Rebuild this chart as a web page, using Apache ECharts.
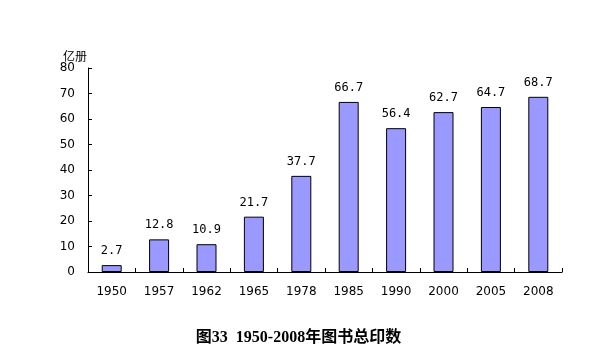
<!DOCTYPE html>
<html><head><meta charset="utf-8">
<script src="https://cdn.jsdelivr.net/npm/echarts@6/dist/echarts.min.js"></script>
<style>html,body{margin:0;padding:0;background:#fff;}#c{width:597px;height:358px;}</style>
</head><body><div id="c"></div>
<script>
const categories = ['1950','1957','1962','1965','1978','1985','1990','2000','2005','2008'];
const values = [2.7, 12.8, 10.9, 21.7, 37.7, 66.7, 56.4, 62.7, 64.7, 68.7];
const yTicks = {min: 0, max: 80, interval: 10};
const unitName = '亿册';
const titleText = '图33  1950-2008年图书总印数';

const chart = echarts.init(document.getElementById('c'), null, {renderer: 'canvas'});
chart.setOption({
  animation: false,
  backgroundColor: '#fff',
  title: {
    text: titleText, left: 'center', top: 325,
    textStyle: {fontFamily: '"Liberation Serif", "Noto Sans CJK SC", serif', fontSize: 16, fontWeight: 'bold', color: '#000'}
  },
  grid: {left: 88, right: 35, top: 68, bottom: 86, containLabel: false},
  xAxis: {
    type: 'category', data: categories,
    axisLine: {lineStyle: {color: '#000', width: 1}},
    axisTick: {show: true, inside: true, length: 4, alignWithLabel: false, lineStyle: {color: '#000'}},
    axisLabel: {color: '#000', fontSize: 12, fontFamily: '"DejaVu Sans", sans-serif', margin: 14}
  },
  yAxis: {
    type: 'value', min: yTicks.min, max: yTicks.max, interval: yTicks.interval,
    name: unitName, nameLocation: 'end', nameGap: 6,
    nameTextStyle: {color: '#000', fontSize: 12, align: 'right', padding: [0, 1, 0, 0], fontFamily: '"Noto Sans CJK SC", sans-serif'},
    axisLine: {show: true, lineStyle: {color: '#000', width: 1}},
    axisTick: {show: true, inside: true, length: 4, lineStyle: {color: '#000'}},
    splitLine: {show: false},
    axisLabel: {color: '#000', fontSize: 12, fontFamily: '"DejaVu Sans", sans-serif', margin: 13}
  },
  series: [{
    type: 'bar', data: values, barWidth: 20,
    itemStyle: {color: '#9999ff', borderColor: '#000', borderWidth: 1},
    label: {show: true, position: 'top', distance: 8, color: '#000', fontSize: 12, fontFamily: '"DejaVu Sans Mono", monospace',
      formatter: p => p.value.toFixed(1)}
  }]
});
</script></body></html>
